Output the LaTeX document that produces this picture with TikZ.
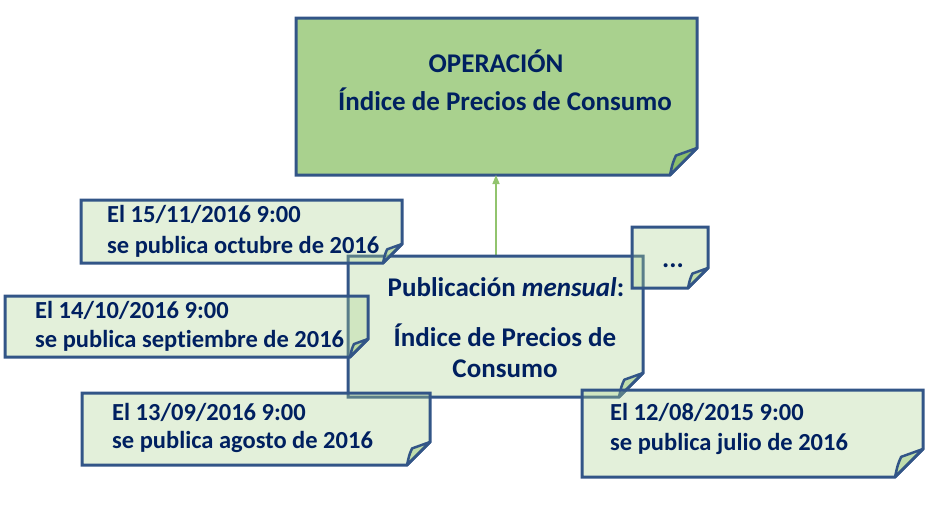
\documentclass[tikz,border=0pt]{standalone}
\usepackage{fontspec}
\setmainfont{Carlito}[Ligatures={NoCommon}]
\usetikzlibrary{arrows.meta}
\definecolor{pgreen}{HTML}{A9D18E}
\definecolor{pfold}{HTML}{8CBF6A}
\definecolor{pline}{RGB}{50,85,135}
\definecolor{ptext}{RGB}{0,32,96}
\definecolor{parrow}{RGB}{146,196,110}
\tikzset{
  area/.style={draw=none,inner sep=0pt,outer sep=0pt,anchor=north west},
  topbody/.style={fill=pgreen,draw=pline,line width=3pt,line join=miter},
  topfoldst/.style={fill=pfold,draw=pline,line width=2.5pt,line join=round},
  notebody/.style={fill=pgreen,fill opacity=0.33,draw=pline,draw opacity=1,line width=3pt},
  notefoldst/.style={fill=pgreen,fill opacity=0.6,draw=pline,draw opacity=1,line width=2.5pt,line join=round},
  txt/.style={text=ptext,font=\bfseries\fontsize{27}{31}\selectfont,inner sep=0pt,anchor=base},
  dtxt/.style={text=ptext,font=\bfseries\fontsize{24.5}{29}\selectfont,inner sep=0pt,anchor=base west},
  link/.style={draw=parrow,line width=1.5pt,-{Triangle[length=9pt,width=7pt]}}
}
\newcommand\drawfold[3]{%
  \path[#3body] (#1.north west) -- (#1.north east) -- ([yshift=#2pt]#1.south east)
    -- ([xshift=-#2pt]#1.south east) -- (#1.south west) -- cycle;
  \path[#3foldst] ([yshift=#2pt]#1.south east)
    -- ([xshift=-0.78*#2pt,yshift=0.72*#2pt]#1.south east)
    .. controls ([xshift=-0.9*#2pt,yshift=0.45*#2pt]#1.south east) .. ([xshift=-#2pt]#1.south east)
    -- cycle;
}
\begin{document}
\begin{tikzpicture}[x=1pt,y=-1pt]
\useasboundingbox (0,0) rectangle (930,515);
% top box
\node[area,minimum width=401pt,minimum height=157pt] (op) at (296,18) {};
\drawfold{op}{27}{top}
\node[txt] (opt1) at (496,72) {OPERACIÓN};
\node[txt] (opt2) at (505,110) {Índice de Precios de Consumo};
% main box
\node[area,minimum width=295pt,minimum height=141pt] (pub) at (348,256) {};
\draw[link] (pub.north -| opt1) -- (op.south -| opt1);
\drawfold{pub}{24}{note}
\node[txt] (pubt1) at (506,296) {Publicación \textit{mensual}:};
\node[txt] (pubt2) at (505,346) {Índice de Precios de};
\node[txt] (pubt3) at (505,377) {Consumo};
% 15/11
\node[area,minimum width=321pt,minimum height=63pt] (d1) at (81,200) {};
\drawfold{d1}{19}{note}
\node[dtxt] (d1a) at (107,222) {El 15/11/2016 9:00};
\node[dtxt] (d1b) at (107,253) {se publica octubre de 2016};
% 14/10
\node[area,minimum width=363pt,minimum height=61pt] (d2) at (5,296) {};
\drawfold{d2}{18}{note}
\node[dtxt] (d2a) at (35,318) {El 14/10/2016 9:00};
\node[dtxt] (d2b) at (35,347) {se publica septiembre de 2016};
% dots
\node[area,minimum width=76pt,minimum height=61pt] (dd) at (632,227) {};
\drawfold{dd}{20}{note}
\node[txt] (ddt) at (673,267) {...};
% 13/09
\node[area,minimum width=348pt,minimum height=72pt] (d3) at (82,393) {};
\drawfold{d3}{23}{note}
\node[dtxt] (d3a) at (112,420) {El 13/09/2016 9:00};
\node[dtxt] (d3b) at (112,448) {se publica agosto de 2016};
% 12/08
\node[area,minimum width=341pt,minimum height=87pt] (d4) at (582,390) {};
\drawfold{d4}{28}{note}
\node[dtxt] (d4a) at (610,420) {El 12/08/2015 9:00};
\node[dtxt] (d4b) at (610,450) {se publica julio de 2016};
\end{tikzpicture}
\end{document}
